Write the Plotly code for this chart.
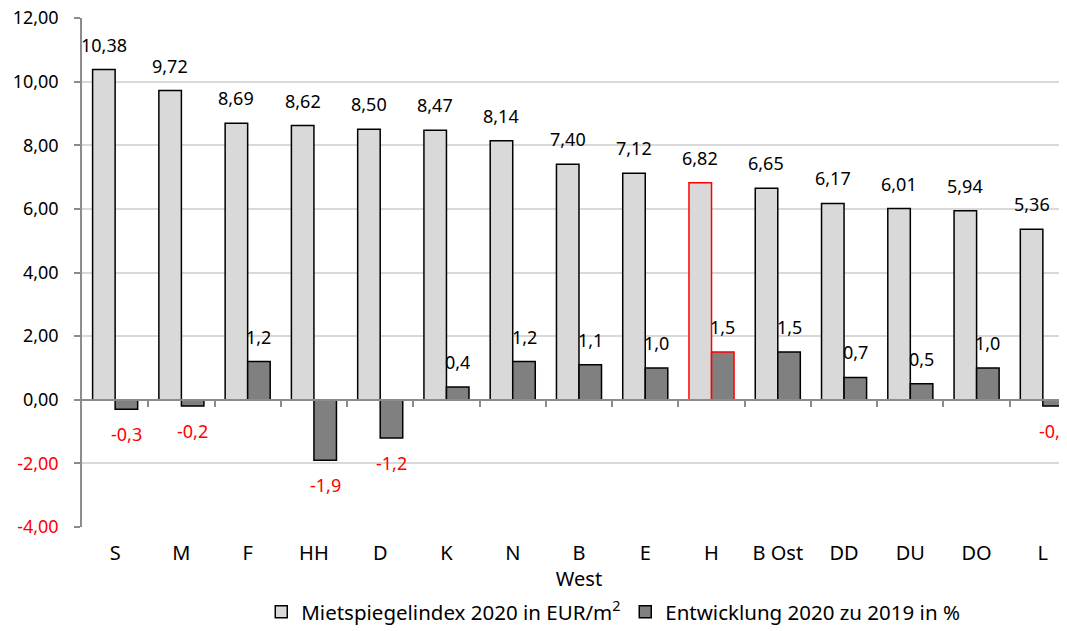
import plotly.graph_objects as go

categories = ["S", "M", "F", "HH", "D", "K", "N", "B", "E", "H", "B Ost", "DD", "DU", "DO", "L"]
category_labels = ["S", "M", "F", "HH", "D", "K", "N", "B<br>West", "E", "H", "B Ost", "DD", "DU", "DO", "L"]
mietspiegel = [10.38, 9.72, 8.69, 8.62, 8.50, 8.47, 8.14, 7.40, 7.12, 6.82, 6.65, 6.17, 6.01, 5.94, 5.36]
entwicklung = [-0.3, -0.2, 1.2, -1.9, -1.2, 0.4, 1.2, 1.1, 1.0, 1.5, 1.5, 0.7, 0.5, 1.0, -0.2]
highlight = "H"
y_ticks = [-4, -2, 0, 2, 4, 6, 8, 10, 12]

FONT = "Noto Sans"
FS = 18
FS_TEXT = 20
FS_LEG = 20.5
outline = ["red" if c == highlight else "black" for c in categories]

fig = go.Figure()
fig.add_trace(go.Bar(
    x=categories, y=mietspiegel, name="Mietspiegelindex 2020 in EUR/m<sup>2</sup>",
    marker=dict(color="#D9D9D9", line=dict(color=outline, width=1.5)),
))
fig.add_trace(go.Bar(
    x=categories, y=entwicklung, name="Entwicklung 2020 zu 2019 in %",
    marker=dict(color="#808080", line=dict(color=outline, width=1.5)),
))

def fmt(v, d):
    return f"{v:.{d}f}".replace(".", ",")

annotations = []
for c, v in zip(categories, mietspiegel):
    annotations.append(dict(x=c, y=v, xref="x", yref="y", text=fmt(v, 2), showarrow=False,
                            xshift=-11.3, yshift=11, yanchor="bottom",
                            font=dict(family=FONT, size=FS, color="black")))
for c, v in zip(categories, entwicklung):
    neg = v < 0
    annotations.append(dict(x=c, y=v, xref="x", yref="y", text=fmt(v, 1), showarrow=False,
                            xshift=11.3, yshift=-11 if neg else 11,
                            yanchor="top" if neg else "bottom",
                            font=dict(family=FONT, size=FS, color="red" if neg else "black")))

tick_text = []
for t in y_ticks:
    s = fmt(t, 2)
    tick_text.append(f'<span style="color:red">{s}</span>' if t < 0 else s)

n = len(categories)
xr = [-0.5, n - 0.5 - 9 / 66.36]

fig.update_layout(
    template="none",
    width=1059, height=623,
    margin=dict(l=74, r=0, t=10, b=104, autoexpand=False),
    paper_bgcolor="white", plot_bgcolor="white",
    barmode="group", bargap=0.32, bargroupgap=0,
    font=dict(family=FONT, size=FS, color="black"),
    showlegend=True,
    legend=dict(orientation="h", x=0.182, xanchor="left", y=-0.167, yanchor="middle",
                font=dict(family=FONT, size=FS_LEG, color="black"),
                itemwidth=30, entrywidth=319, tracegroupgap=0, traceorder="normal",
                bgcolor="rgba(0,0,0,0)"),
    annotations=annotations,
    xaxis=dict(type="category", range=xr, showline=False, showgrid=False, ticks="",
               tickvals=categories, ticktext=category_labels, automargin=False,
               tickfont=dict(family=FONT, size=FS_TEXT, color="black"), ticklabelstandoff=12),
    xaxis2=dict(type="linear", overlaying="x", anchor="free", position=0.25, side="bottom",
                range=xr, showline=True, linecolor="#8C8C8C", linewidth=1.5, automargin=False,
                ticks="outside", ticklen=6, tickcolor="#8C8C8C", tickwidth=1.5,
                tickvals=[i + 0.5 for i in range(n - 1)], showticklabels=False,
                showgrid=False, zeroline=False),
    yaxis=dict(range=[-4, 12], tickvals=y_ticks, ticktext=tick_text, automargin=False,
               showgrid=True, gridcolor="#D9D9D9", gridwidth=1.5,
               showline=True, linecolor="#8C8C8C", linewidth=1.5,
               ticks="outside", ticklen=6, tickcolor="#8C8C8C", tickwidth=1.5,
               zeroline=False, tickfont=dict(family=FONT, size=FS, color="black"),
               ticklabelstandoff=12, ticklabeloverflow="allow"),
)
fig.add_trace(go.Scatter(x=[xr[0], xr[1]], y=[0, 0], xaxis="x2", yaxis="y", mode="lines",
                         line=dict(width=0), showlegend=False, hoverinfo="skip"))

fig.write_html("out.html")
